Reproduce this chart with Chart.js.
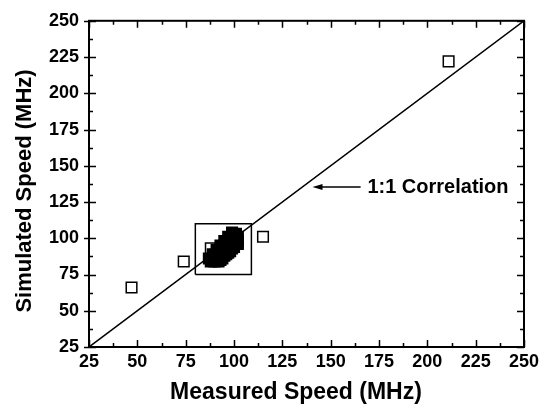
<!DOCTYPE html>
<html>
<head>
<meta charset="utf-8">
<script src="https://cdn.jsdelivr.net/npm/chart.js@4"></script>
<style>
  html, body { margin: 0; padding: 0; background: #fff; }
  #wrap { width: 545px; height: 411px; }
</style>
</head>
<body>
<div id="wrap"><canvas id="speedChart"></canvas></div>
<script>
// measured vs simulated speed (MHz)
const outlierX = [47, 74, 115, 211];
const outlierY = [66, 84, 101, 222];

// dense cluster of designs around 85-105 MHz
const clusterX = [87, 89, 91, 93, 95, 97, 99,
                  88, 90, 92, 94, 96, 98, 100, 101,
                  90, 92, 94, 96, 98, 100, 102,
                  92, 94, 96, 98, 100, 102, 102,
                  89, 91, 93, 95, 97, 99, 91, 93, 95, 97, 99, 101, 93, 95, 97, 99, 101];
const clusterY = [86, 89, 92, 95, 98, 101, 104,
                  84, 87, 90, 93, 96, 99, 102, 103,
                  84, 87, 90, 93, 96, 99, 101,
                  84, 86, 89, 91, 94, 96, 98,
                  86, 89, 92, 95, 98, 101, 86, 89, 91, 94, 97, 99, 85, 88, 90, 93, 96];
const edgeX = [88];
const edgeY = [93];

const lineX = [25, 250];
const lineY = [25, 250];

const boxX = [80, 109, 109, 80, 80];
const boxY = [75, 75, 110, 110, 75];

const tickValues = [25, 50, 75, 100, 125, 150, 175, 200, 225, 250];

const noteText = '1:1 Correlation';

function toPoints(xs, ys) {
    return xs.map((x, i) => ({ x: x, y: ys[i] }));
}

const FONT = "'Liberation Sans', Arial, sans-serif";

const framePlugin = {
    id: 'frame',
    afterDatasetsDraw(chart) {
        const ctx = chart.ctx;
        const a = chart.chartArea;
        const xs = chart.scales.x;
        const ys = chart.scales.y;
        ctx.save();
        ctx.strokeStyle = '#000';

        // ticks, major every 25 and minor in between
        ctx.lineWidth = 1.5;
        ctx.beginPath();
        for (let v = 25; v <= 250; v += 12.5) {
            const major = (v % 25) === 0;
            const px = Math.round(xs.getPixelForValue(v)) + 0.5;
            const py = Math.round(ys.getPixelForValue(v)) + 0.5;
            const len = major ? 7 : 4;
            ctx.moveTo(px, a.bottom); ctx.lineTo(px, a.bottom - len);
            ctx.moveTo(px, a.top); ctx.lineTo(px, a.top + len);
            ctx.moveTo(a.left - (major ? 5 : 0), py); ctx.lineTo(a.left + len, py);
            ctx.moveTo(a.right, py); ctx.lineTo(a.right - len, py);
        }
        ctx.stroke();

        // frame
        ctx.lineWidth = 2;
        ctx.strokeRect(a.left, a.top, a.right - a.left, a.bottom - a.top);

        // annotation arrow
        const ay = ys.getPixelForValue(135.4);
        const tip = xs.getPixelForValue(140.6);
        const tail = xs.getPixelForValue(165.5);
        ctx.lineWidth = 1.5;
        ctx.beginPath();
        ctx.moveTo(tail, ay); ctx.lineTo(tip + 6, ay);
        ctx.stroke();
        ctx.fillStyle = '#000';
        ctx.beginPath();
        ctx.moveTo(tip, ay); ctx.lineTo(tip + 10, ay - 3); ctx.lineTo(tip + 10, ay + 3);
        ctx.closePath();
        ctx.fill();

        ctx.font = 'bold 20px ' + FONT;
        ctx.textAlign = 'left';
        ctx.textBaseline = 'middle';
        ctx.fillText(noteText, xs.getPixelForValue(169), ay + 1);

        // axis titles
        ctx.font = 'bold 23px ' + FONT;
        ctx.textAlign = 'center';
        ctx.fillText('Measured Speed (MHz)', 296, 393);
        ctx.save();
        ctx.translate(25, 191);
        ctx.rotate(-Math.PI / 2);
        ctx.font = 'bold 22px ' + FONT;
        ctx.fillText('Simulated Speed (MHz)', 0, 0);
        ctx.restore();

        ctx.restore();
    }
};

const ctx = document.getElementById('speedChart').getContext('2d');
new Chart(ctx, {
    type: 'scatter',
    data: {
        datasets: [
            {
                label: '1:1',
                data: toPoints(lineX, lineY),
                showLine: true,
                borderColor: '#000',
                borderWidth: 1.5,
                pointRadius: 0
            },
            {
                label: 'box',
                data: toPoints(boxX, boxY),
                showLine: true,
                borderColor: '#000',
                borderWidth: 1.5,
                pointRadius: 0
            },
            {
                label: 'cluster',
                data: toPoints(clusterX, clusterY),
                pointStyle: 'rect',
                pointRadius: 7.5,
                borderColor: '#000',
                backgroundColor: '#000',
                borderWidth: 1.5
            },
            {
                label: 'edge',
                data: toPoints(edgeX, edgeY),
                pointStyle: 'rect',
                pointRadius: 7.5,
                borderColor: '#000',
                backgroundColor: '#fff',
                borderWidth: 1.5
            },
            {
                label: 'outliers',
                data: toPoints(outlierX, outlierY),
                pointStyle: 'rect',
                pointRadius: 7.5,
                borderColor: '#000',
                backgroundColor: '#fff',
                borderWidth: 1.5
            }
        ]
    },
    options: {
        responsive: true,
        maintainAspectRatio: false,
        animation: false,
        events: [],
        layout: { padding: { top: 17, right: 21, left: 0, bottom: 0 } },
        plugins: {
            legend: { display: false },
            tooltip: { enabled: false }
        },
        scales: {
            x: {
                type: 'linear',
                min: 25,
                max: 250,
                afterBuildTicks: (s) => { s.ticks = tickValues.map(v => ({ value: v })); },
                afterFit: (s) => { s.height = 64; },
                ticks: {
                    color: '#000',
                    font: { family: FONT, size: 18, weight: 'bold' },
                    padding: 4,
                    maxRotation: 0,
                    autoSkip: false
                },
                grid: { display: false, drawTicks: false },
                border: { display: false }
            },
            y: {
                type: 'linear',
                min: 25,
                max: 250,
                afterBuildTicks: (s) => { s.ticks = tickValues.map(v => ({ value: v })); },
                afterFit: (s) => { s.width = 89; },
                ticks: {
                    color: '#000',
                    font: { family: FONT, size: 18, weight: 'bold' },
                    padding: 10,
                    autoSkip: false
                },
                grid: { display: false, drawTicks: false },
                border: { display: false }
            }
        }
    },
    plugins: [framePlugin]
});
</script>
</body>
</html>
